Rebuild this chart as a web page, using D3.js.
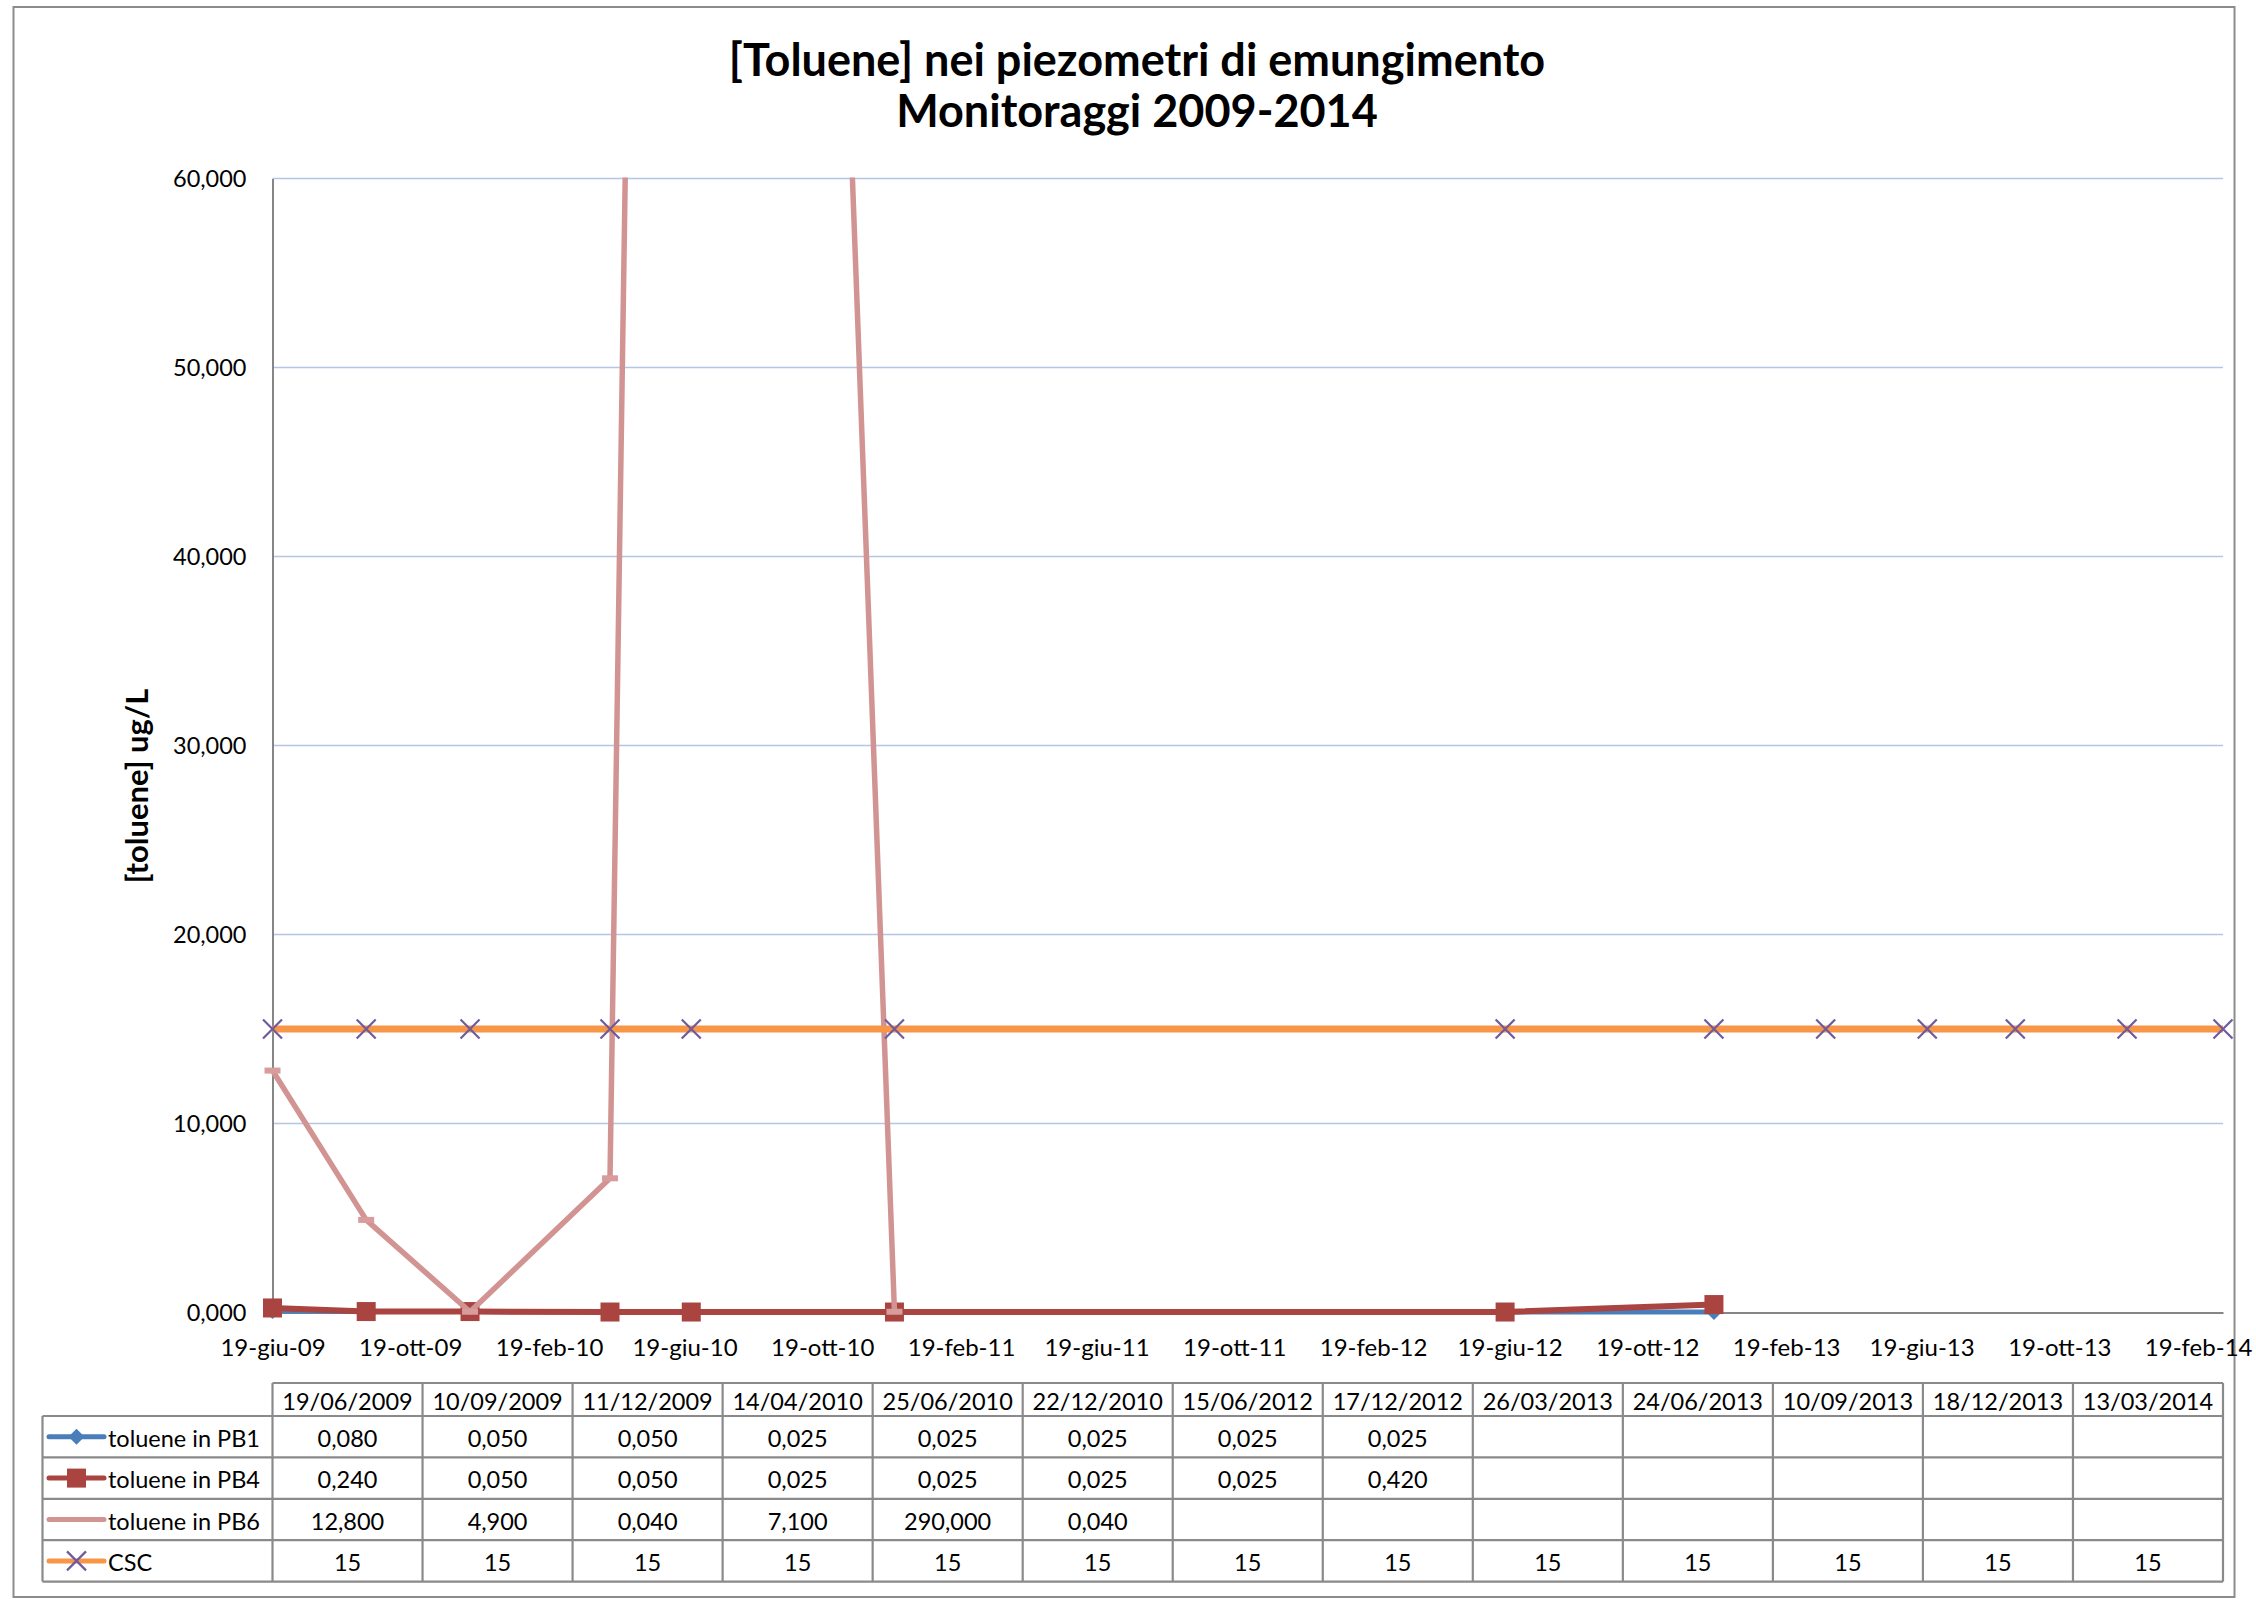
<!DOCTYPE html>
<html><head><meta charset="utf-8">
<script src="https://cdn.jsdelivr.net/npm/d3@7"></script>
<style>
body{margin:0;background:#fff}
svg{display:block}
text{font-family:Lato,"Open Sans",sans-serif;fill:#000}
</style>
</head><body>
<svg id="chart" width="2256" height="1604"></svg>
<script>
// ---------- DATA ----------
const dates = ["2009-06-19","2009-09-10","2009-12-11","2010-04-14","2010-06-25","2010-12-22","2012-06-15","2012-12-17","2013-03-26","2013-06-24","2013-09-10","2013-12-18","2014-03-13"];
const pb1 = [0.080,0.050,0.050,0.025,0.025,0.025,0.025,0.025,null,null,null,null,null];
const pb4 = [0.240,0.050,0.050,0.025,0.025,0.025,0.025,0.420,null,null,null,null,null];
const pb6 = [12.800,4.900,0.040,7.100,290.000,0.040,null,null,null,null,null,null,null];
const csc = [15,15,15,15,15,15,15,15,15,15,15,15,15];
const seriesNames = ["toluene in PB1","toluene in PB4","toluene in PB6","CSC"];
const yTicks = [0,10,20,30,40,50,60];
const xTickDates = ["2009-06-19","2009-10-19","2010-02-19","2010-06-19","2010-10-19","2011-02-19","2011-06-19","2011-10-19","2012-02-19","2012-06-19","2012-10-19","2013-02-19","2013-06-19","2013-10-19","2014-02-19"];
const titleLines = ["[Toluene] nei piezometri di emungimento","Monitoraggi 2009-2014"];
const yTitle = "[toluene] ug/L";

// ---------- LOCALES ----------
const numLoc = d3.formatLocale({decimal:",",thousands:".",grouping:[3],currency:["€",""]});
const f3 = numLoc.format(".3f");
const fInt = numLoc.format("d");
const timeLoc = d3.timeFormatLocale({
  dateTime:"%A %e %B %Y, %X",date:"%d/%m/%Y",time:"%H:%M:%S",periods:["AM","PM"],
  days:["domenica","lunedì","martedì","mercoledì","giovedì","venerdì","sabato"],
  shortDays:["dom","lun","mar","mer","gio","ven","sab"],
  months:["gennaio","febbraio","marzo","aprile","maggio","giugno","luglio","agosto","settembre","ottobre","novembre","dicembre"],
  shortMonths:["gen","feb","mar","apr","mag","giu","lug","ago","set","ott","nov","dic"]
});
const fTick = timeLoc.utcFormat("%d-%b-%y");
const fDate = timeLoc.utcFormat("%d/%m/%Y");
const parse = d3.utcParse("%Y-%m-%d");

// ---------- LAYOUT ----------
const L = 272.5, R = 2223, T = 178.5, B = 1312.5;
const svg = d3.select("#chart");

svg.append("rect").attr("x",13.5).attr("y",7).attr("width",2221).attr("height",1590)
  .attr("fill","#fff").attr("stroke","#8c8c8c").attr("stroke-width",2);

const dateObjs = dates.map(parse);
const x = d3.scaleUtc().domain([dateObjs[0], dateObjs[dateObjs.length-1]]).range([L,R]);
const y = d3.scaleLinear().domain([0,60]).range([B,T]);

// title
svg.append("g").selectAll("text").data(titleLines).join("text")
  .attr("x",1137).attr("y",(d,i)=>76+i*51).attr("text-anchor","middle")
  .style("font-weight","bold").style("font-size","45px").text(d=>d);

// y title
svg.append("text").attr("transform","translate(148,786) rotate(-90)")
  .attr("text-anchor","middle").style("font-weight","bold").style("font-size","31px").text(yTitle);

// gridlines
svg.append("g").selectAll("line").data(yTicks.filter(d=>d>0)).join("line")
  .attr("x1",L).attr("x2",R).attr("y1",d=>y(d)).attr("y2",d=>y(d))
  .attr("stroke","#b3c6e7").attr("stroke-width",1.6);

// y axis
const yAxis = svg.append("g").attr("transform",`translate(${L},0)`)
  .call(d3.axisLeft(y).tickValues(yTicks).tickFormat(f3).tickSize(0).tickPadding(26).tickSizeOuter(0));
yAxis.select(".domain").attr("stroke","#868686").attr("stroke-width",2);
yAxis.selectAll("text").style("font-size","23.5px").style("font-family","Lato");

// x axis
const xAxis = svg.append("g").attr("transform",`translate(0,${B})`)
  .call(d3.axisBottom(x).tickValues(xTickDates.map(parse)).tickFormat(fTick).tickSize(0).tickPadding(26).tickSizeOuter(0));
xAxis.select(".domain").attr("stroke","#868686").attr("stroke-width",2);
xAxis.selectAll("text").style("font-size","24px").style("font-family","Lato");

// clip
svg.append("defs").append("clipPath").attr("id","plotclip")
  .append("rect").attr("x",0).attr("y",T-1).attr("width",2256).attr("height",B-T+60);

const series = [
  {name:seriesNames[0], vals:pb1, color:"#4a7ebb", w:5, marker:"diamond"},
  {name:seriesNames[1], vals:pb4, color:"#a94441", w:6, marker:"square"},
  {name:seriesNames[2], vals:pb6, color:"#d29493", w:5.5, marker:"dash"},
  {name:seriesNames[3], vals:csc, color:"#f79646", w:7, marker:"x"}
];

function drawMarker(g, type, color){
  if(type==="diamond"){
    g.append("path").attr("d","M0,-8L8,0L0,8L-8,0Z").attr("fill",color);
  } else if(type==="square"){
    g.append("rect").attr("x",-9.5).attr("y",-9.5).attr("width",19).attr("height",19).attr("fill",color);
  } else if(type==="dash"){
    g.append("rect").attr("x",-8).attr("y",-3).attr("width",16).attr("height",6).attr("fill","#d79c9b");
  } else if(type==="x"){
    g.append("path").attr("d","M-9.5,-9.5L9.5,9.5M-9.5,9.5L9.5,-9.5").attr("stroke","#6f5a9e").attr("stroke-width",2.2).attr("fill","none");
  }
}

const plot = svg.append("g");
series.forEach(s=>{
  const pts = dateObjs.map((d,i)=>({d, v:s.vals[i]})).filter(p=>p.v!==null);
  const line = d3.line().x(p=>x(p.d)).y(p=>y(p.v));
  plot.append("path").datum(pts).attr("d",line).attr("clip-path","url(#plotclip)")
    .attr("fill","none").attr("stroke",s.color).attr("stroke-width",s.w)
    .attr("stroke-linejoin","round");
  pts.filter(p=>p.v<=60).forEach(p=>{
    const g = plot.append("g").attr("transform",`translate(${x(p.d)},${y(p.v)})`);
    drawMarker(g, s.marker, s.color);
  });
});

// ---------- DATA TABLE ----------
const col = d3.scaleBand().domain(d3.range(dates.length)).range([L,R]);
const hdrTop = 1383, hdrBot = 1416, rowH = 41.4;
const rowY = d3.scaleBand().domain(d3.range(series.length)).range([hdrBot, hdrBot+rowH*series.length]);
const tLeft = 42.5;
const tbl = svg.append("g");
const lineCol = "#8a8a8a";
tbl.append("line").attr("x1",L).attr("x2",R).attr("y1",hdrTop).attr("y2",hdrTop).attr("stroke",lineCol).attr("stroke-width",2.2);
d3.range(series.length+1).forEach(i=>{
  const yy = hdrBot + i*rowH;
  tbl.append("line").attr("x1",tLeft).attr("x2",R).attr("y1",yy).attr("y2",yy).attr("stroke",lineCol).attr("stroke-width",2.2);
});
tbl.append("line").attr("x1",tLeft).attr("x2",tLeft).attr("y1",hdrBot).attr("y2",hdrBot+rowH*4).attr("stroke",lineCol).attr("stroke-width",2.2);
d3.range(dates.length+1).forEach(i=>{
  const xx = L + i*col.step();
  tbl.append("line").attr("x1",xx).attr("x2",xx).attr("y1",hdrTop).attr("y2",hdrBot+rowH*4).attr("stroke",lineCol).attr("stroke-width",2.2);
});
tbl.append("g").selectAll("text").data(dateObjs).join("text")
  .attr("x",(d,i)=>col(i)+col.bandwidth()/2).attr("y",(hdrTop+hdrBot)/2+1)
  .attr("text-anchor","middle").attr("dominant-baseline","central")
  .style("font-size","23.5px").text(d=>fDate(d));
series.forEach((s,si)=>{
  const cy = rowY(si) + rowY.bandwidth()/2;
  const lg = tbl.append("g");
  lg.append("line").attr("x1",49).attr("x2",104).attr("y1",cy).attr("y2",cy)
    .attr("stroke",s.color).attr("stroke-width",5).attr("stroke-linecap","round");
  if(s.marker!=="dash") drawMarker(lg.append("g").attr("transform",`translate(76.5,${cy})`), s.marker, s.color);
  lg.append("text").attr("x",108).attr("y",cy+1).attr("dominant-baseline","central")
    .style("font-size","23.5px").text(s.name);
  tbl.append("g").selectAll("text").data(s.vals).join("text")
    .attr("x",(d,i)=>col(i)+col.bandwidth()/2).attr("y",cy+1)
    .attr("text-anchor","middle").attr("dominant-baseline","central")
    .style("font-size","23.5px")
    .text(d=>d===null?"":(si===3?fInt(d):f3(d)));
});
</script>
</body></html>
